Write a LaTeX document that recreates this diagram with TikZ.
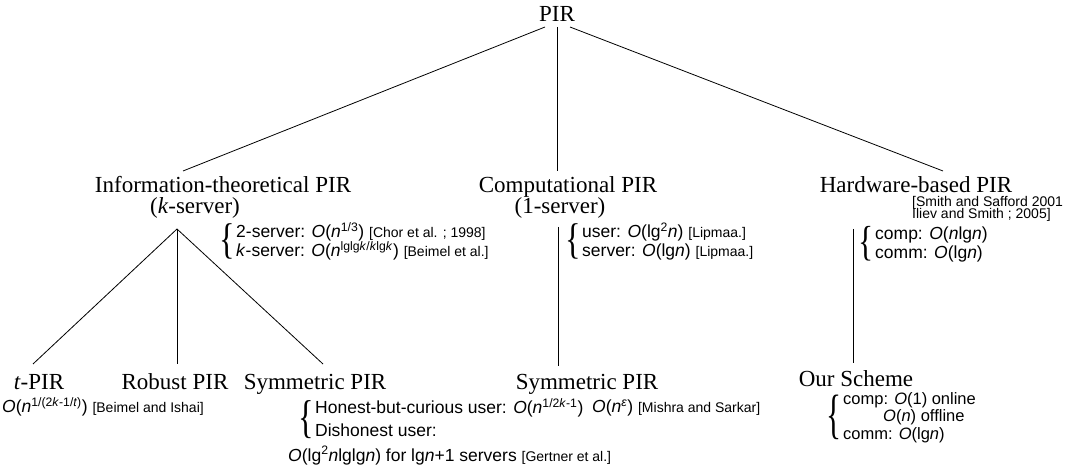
\documentclass[tikz,border=0pt]{standalone}
\usepackage{graphicx}
\usepackage{fontspec}
\setmainfont{Liberation Serif}
\setsansfont{Liberation Sans}
\newcommand\vi[1]{\textit{#1}}
\newcommand\sps[1]{\textsuperscript{#1}}
\newcommand\refsz{\fontsize{14}{14}\selectfont}
\newcommand\brc[2]{\scalebox{#2}[1]{\fontsize{#1}{#1}\selectfont\{}}
\begin{document}
\begin{tikzpicture}[x=1pt,y=-1pt,
  ttl/.style={font=\fontsize{23}{25}\selectfont, inner sep=0pt, anchor=base},
  txt/.style={font=\sffamily\fontsize{17.5}{19}\selectfont, inner sep=0pt, anchor=base west},
  txs/.style={font=\sffamily\fontsize{16.5}{18}\selectfont, inner sep=0pt, anchor=base west},
  refs/.style={font=\sffamily\refsz, inner sep=0pt, anchor=base west},
  bracen/.style={inner sep=0pt, anchor=base east},
  edge/.style={draw, line width=0.8pt}
]
\useasboundingbox (0,0) rectangle (1072,470);

% top
\node[ttl] (pir) at (557,22) {PIR};

% second row
\node[ttl] (it) at (223,193) {Information-theoretical PIR};
\node[ttl] (its) at (195,214) {(\textit{k}-server)};
\node[ttl] (cp) at (568,193) {Computational PIR};
\node[ttl] (cps) at (560,214) {(1-server)};
\node[ttl] (hw) at (916,193) {Hardware-based PIR};
\node[refs] (hwr1) at (912,207) {[Smith and Safford 2001};
\node[refs] (hwr2) at (912,219) {Iliev and Smith ; 2005]};

% junction coordinates
\coordinate (pirL) at (545,27);
\coordinate (pirM) at (557,27);
\coordinate (pirR) at (570,27);
\coordinate (itT) at (183,171);
\coordinate (cpT) at (557,171);
\coordinate (hwT) at (943,171);
\coordinate (itK) at (177,229);
\coordinate (cpK) at (558,227);
\coordinate (hwK) at (853,229);

\draw[edge] (pirL) -- (itT);
\draw[edge] (pirM) -- (cpT);
\draw[edge] (pirR) -- (hwT);

% IT details
\node[bracen] (itb) at (235,254) {\brc{43}{0.75}};
\node[txt] (it1) at (236,238) {2-server: \vi{O}(\vi{n}\sps{1/3}) {\refsz [Chor et al. ; 1998]}};
\node[txt] (it2) at (236,257) {\vi{k}-server: \vi{O}(\vi{n}\sps{lglg\vi{k}/\vi{k}lg\vi{k}}) {\refsz [Beimel et al.]}};

% Computational details
\node[bracen] (cpb) at (581,254) {\brc{43}{0.75}};
\node[txt] (cp1) at (582,238) {user: \vi{O}(lg\sps{2}\vi{n}) {\refsz [Lipmaa.]}};
\node[txt] (cp2) at (582,257) {server: \vi{O}(lg\vi{n}) {\refsz [Lipmaa.]}};

% Hardware details
\node[bracen] (hwb) at (874,256) {\brc{42}{0.75}};
\node[txt] (hw1) at (875,240) {comp: \vi{O}(\vi{n}lg\vi{n})};
\node[txt] (hw2) at (875,259) {comm: \vi{O}(lg\vi{n})};

% bottom row
\node[ttl] (tpir) at (39,390) {\textit{t}-PIR};
\node[ttl] (rob) at (175,390) {Robust PIR};
\node[ttl] (sym1) at (315,390) {Symmetric PIR};
\node[ttl] (sym2) at (587,390) {Symmetric PIR};
\node[ttl] (our) at (856,387) {Our Scheme};

\coordinate (tpirT) at (33,364);
\coordinate (robT) at (177,364);
\coordinate (sym1T) at (323,364);
\coordinate (sym2T) at (558,366);
\coordinate (ourT) at (853,363);

\draw[edge] (itK) -- (tpirT);
\draw[edge] (itK) -- (robT);
\draw[edge] (itK) -- (sym1T);
\draw[edge] (cpK) -- (sym2T);
\draw[edge] (hwK) -- (ourT);

% t-PIR detail
\node[txt] (tpird) at (2,413) {\vi{O}(\vi{n}\sps{1/(2\vi{k}-1/\vi{t})}) {\refsz [Beimel and Ishai]}};

% Symmetric PIR (IT) details
\node[bracen] (s1b) at (314,433) {\brc{46}{0.7}};
\node[txt] (s1a) at (315,414) {Honest-but-curious user: \vi{O}(\vi{n}\sps{1/2\vi{k}-1})};
\node[txt] (s1c) at (315,437) {Dishonest user:};
\node[txt] (s1d) at (288,461) {\vi{O}(lg\sps{2}\vi{n}lglg\vi{n}) for lg\vi{n}+1 servers {\refsz [Gertner et al.]}};

% Symmetric PIR (computational) detail
\node[txt] (s2a) at (592,413) {\vi{O}(\vi{n}\sps{\vi{ε}}) {\refsz [Mishra and Sarkar]}};

% Our scheme details
\node[bracen] (ob) at (842,433) {\brc{54}{0.58}};
\node[txs] (o1) at (843,405) {comp: \vi{O}(1) online};
\node[txs] (o2) at (883,422) {\vi{O}(\vi{n}) offline};
\node[txs] (o3) at (843,439) {comm: \vi{O}(lg\vi{n})};
\end{tikzpicture}
\end{document}
